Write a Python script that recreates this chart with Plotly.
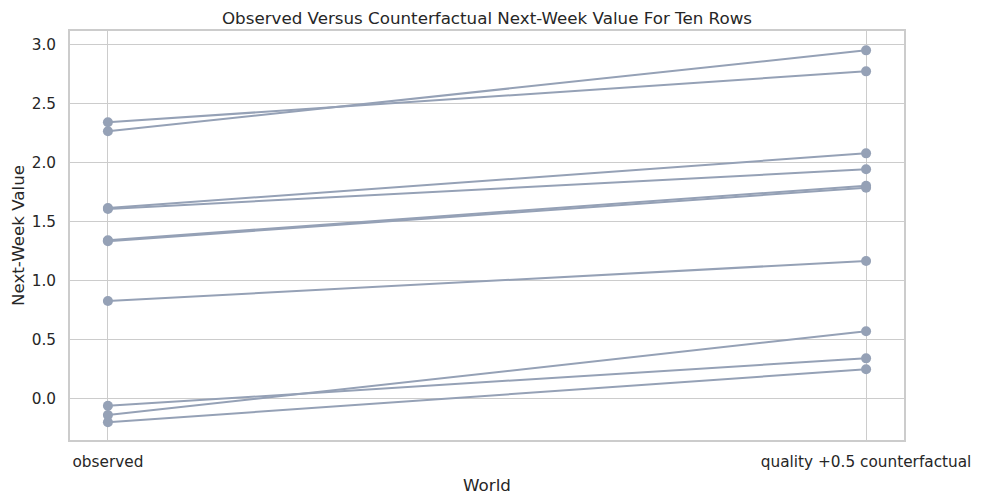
import plotly.graph_objects as go

worlds = ["observed", "quality +0.5 counterfactual"]
observed = [2.339, 2.263, 1.613, 1.605, 1.340, 1.332, 0.825, -0.063, -0.142, -0.203]
counterfactual = [2.771, 2.949, 2.076, 1.941, 1.802, 1.785, 1.164, 0.339, 0.568, 0.246]
y_ticks = [0.0, 0.5, 1.0, 1.5, 2.0, 2.5, 3.0]

LINE_COLOR = "#95a1b6"
GRID = "#cccccc"
FONT = "DejaVu Sans"
TXT = "#262626"

fig = go.Figure()
for o, c in zip(observed, counterfactual):
    fig.add_trace(go.Scatter(
        x=worlds, y=[o, c], mode="lines+markers",
        line=dict(color=LINE_COLOR, width=2),
        marker=dict(color=LINE_COLOR, size=10),
        showlegend=False, hoverinfo="skip",
    ))

fig.update_layout(
    width=981, height=503,
    margin=dict(l=62, r=85, t=23, b=71),
    plot_bgcolor="white", paper_bgcolor="white",
    font=dict(family=FONT, color=TXT, size=15.3),
    title=dict(text="Observed Versus Counterfactual Next-Week Value For Ten Rows",
               x=0.5, xref="paper", xanchor="center",
               y=1 - 10 / 503, yref="container", yanchor="middle",
               font=dict(family=FONT, size=16.7, color=TXT)),
)
fig.update_xaxes(
    type="category", range=[-0.05, 1.05],
    showgrid=True, gridcolor=GRID, gridwidth=1.4,
    showline=True, linecolor=GRID, linewidth=1.7, mirror=True,
    ticks="", ticklabelstandoff=7, zeroline=False,
    tickfont=dict(size=15.3, family=FONT, color=TXT),
    title=dict(text="World", standoff=9, font=dict(size=16.7, family=FONT, color=TXT)),
    automargin=False,
)
fig.update_yaxes(
    range=[-0.353, 3.113],
    tickvals=y_ticks, ticktext=[f"{v:.1f}" for v in y_ticks],
    showgrid=True, gridcolor=GRID, gridwidth=1.4,
    showline=True, linecolor=GRID, linewidth=1.7, mirror=True,
    ticks="", ticklabelstandoff=9, zeroline=False,
    tickfont=dict(size=15.3, family=FONT, color=TXT),
    title=dict(text="Next-Week Value", standoff=3, font=dict(size=16.7, family=FONT, color=TXT)),
    automargin=False,
)

fig.write_html("out.html")
